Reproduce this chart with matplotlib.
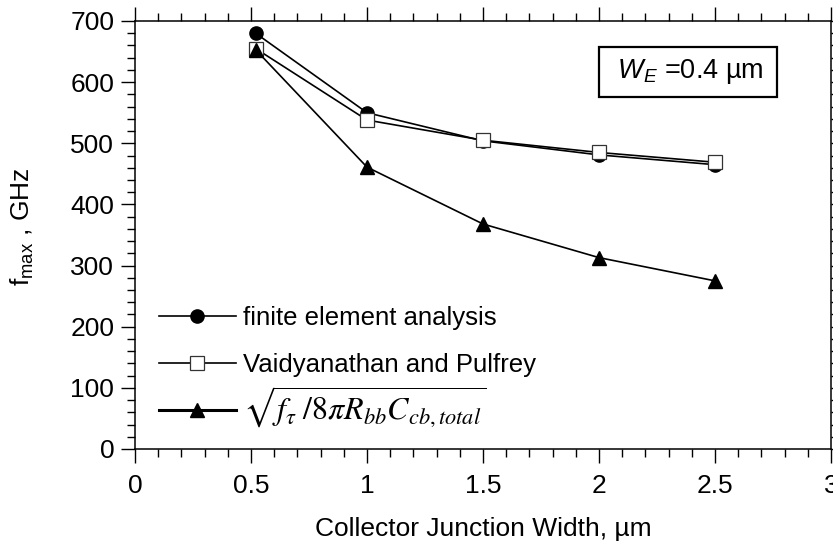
import matplotlib
matplotlib.use('Agg')
import matplotlib.pyplot as plt
from matplotlib.ticker import MultipleLocator, FuncFormatter

# ── Data ─────────────────────────────────────────────────────
width_um = [0.52, 1.0, 1.5, 2.0, 2.5]
fmax_fea = [680, 550, 504, 481, 465]          # finite element analysis
fmax_vp = [655, 538, 505, 485, 469]           # Vaidyanathan and Pulfrey
fmax_formula = [653, 461, 368, 313, 275]      # sqrt(f_t / 8 pi Rbb Ccb)

labels = ['finite element analysis',
          'Vaidyanathan and Pulfrey',
          r'$\sqrt{f_{\tau}\;/8\pi R_{bb}C_{cb,total}}$']

# ── Style ────────────────────────────────────────────────────
FS = 19
plt.rcParams.update({
    'font.family': 'Liberation Sans',
    'font.size': FS,
    'mathtext.fontset': 'custom',
    'mathtext.rm': 'Liberation Sans',
    'mathtext.it': 'Liberation Sans:italic',
    'axes.linewidth': 1.1,
})

fig = plt.figure(figsize=(8.33, 5.42), dpi=100)
ax = fig.add_axes([135 / 833, 1 - 449 / 542, 696 / 833, 428 / 542])

l1, = ax.plot(width_um, fmax_fea, color='black', lw=1.2, marker='o', ms=9.5,
              mfc='black', mec='black', label=labels[0])
l2, = ax.plot(width_um, fmax_vp, color='black', lw=1.2, marker='s', ms=9.5,
              mfc='white', mec='#333333', mew=0.9, label=labels[1])
l3, = ax.plot(width_um, fmax_formula, color='black', lw=1.2, marker='^', ms=10,
              mfc='black', mec='black', label=labels[2])

ax.set_xlim(0, 3)
ax.set_ylim(0, 700)
ax.xaxis.set_major_locator(MultipleLocator(0.5))
ax.xaxis.set_minor_locator(MultipleLocator(0.1))
ax.yaxis.set_major_locator(MultipleLocator(100))
ax.yaxis.set_minor_locator(MultipleLocator(20))
ax.xaxis.set_major_formatter(FuncFormatter(lambda v, p: f'{v:g}'))

ax.tick_params(which='both', direction='out', top=True, right=True, width=1.0)
ax.tick_params(which='major', length=10)
ax.tick_params(which='minor', length=5.5)
ax.tick_params(axis='x', which='major', pad=8)
ax.tick_params(axis='y', which='major', pad=5)

ax.set_xlabel('Collector Junction Width, µm', fontsize=FS)
ax.set_ylabel(r'f$_{\mathregular{max}}$ , GHz', fontsize=FS)
ax.xaxis.set_label_coords(0.5, -0.158)
ax.yaxis.set_label_coords(-0.142, 0.52)

ax.text(688 / 833, 1 - 72 / 542, r' $\mathit{W}_{\mathit{E}}$ =0.4 µm ',
        transform=fig.transFigure, ha='center', va='center', fontsize=19.5,
        bbox=dict(boxstyle='square,pad=0.40', fc='white', ec='black', lw=1.6))

# legend: first two rows, then the formula row on its own
leg_kw = dict(loc='center left', frameon=False, handlelength=3.0,
              handletextpad=0.3, borderpad=0, borderaxespad=0, fontsize=18.5)
leg1 = ax.legend([l1, l2], labels[:2], bbox_to_anchor=(0.034, 1 - (341.5 - 21) / 428),
                 labelspacing=0.93, **leg_kw)
ax.add_artist(leg1)
leg2 = ax.legend([l3], labels[2:], bbox_to_anchor=(0.034, 1 - (407 - 21) / 428),
                 **leg_kw)
leg2.get_texts()[0].set_math_fontfamily('stix')
leg2.get_texts()[0].set_fontsize(23)
leg2.get_lines()[0].set_linewidth(2.2)

fig.savefig('out.png', dpi=100, facecolor='white')
